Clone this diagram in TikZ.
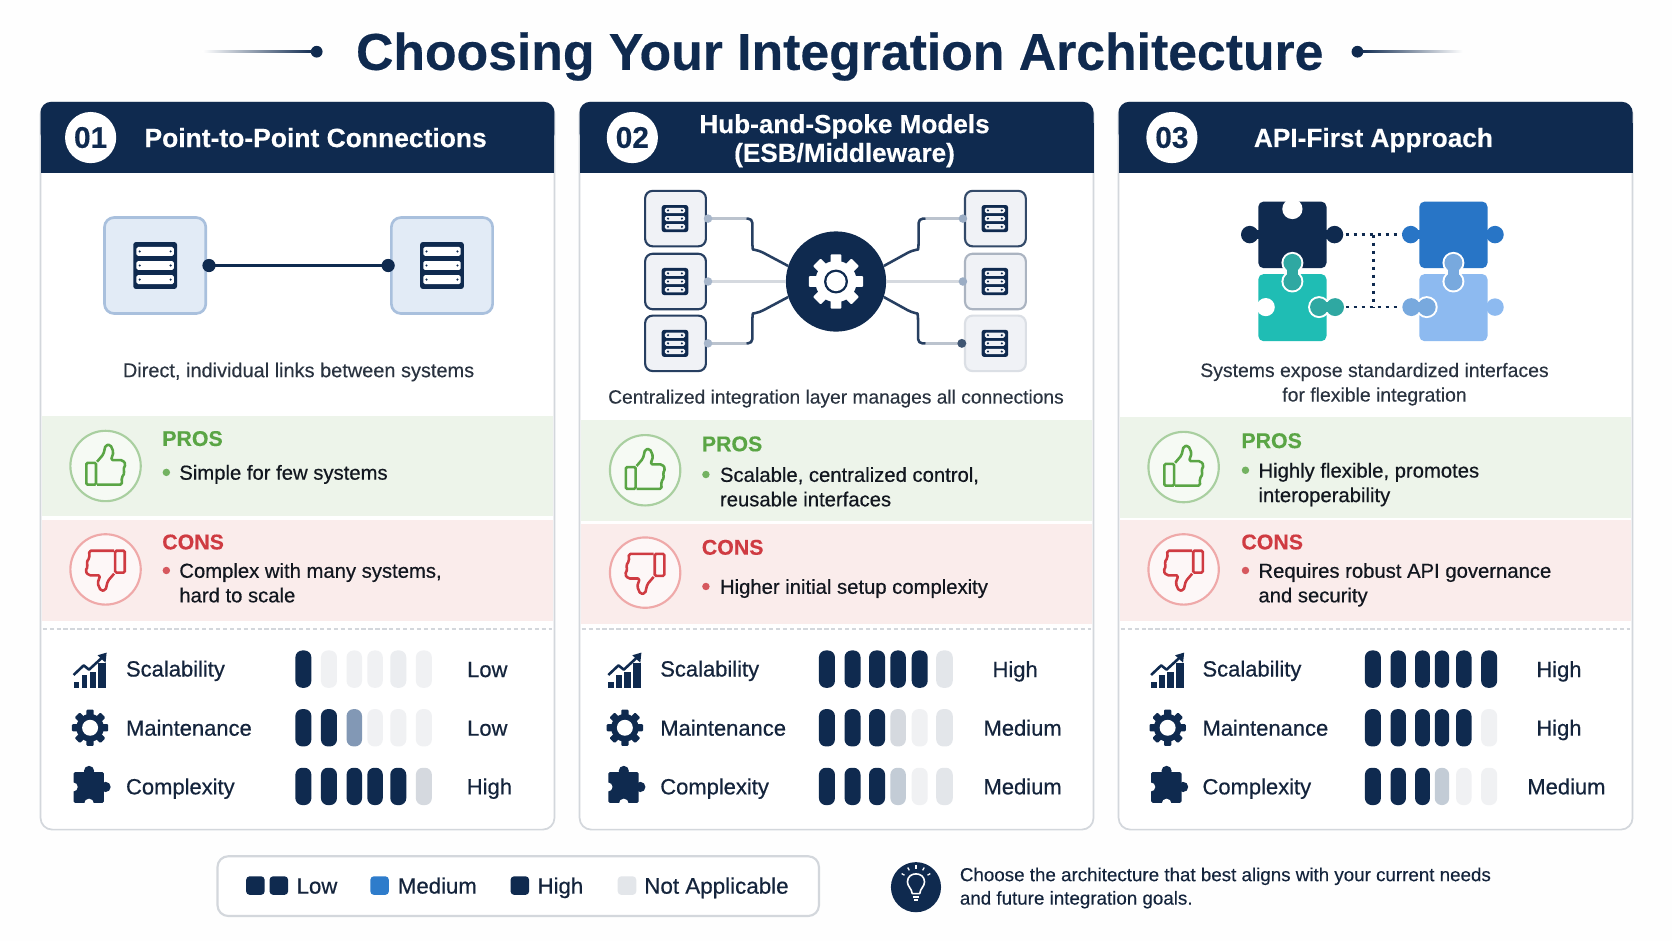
\documentclass[tikz,border=0pt]{standalone}
\usepackage{fontspec}
\setmainfont{Liberation Sans}
\newfontfamily\medf[FakeBold=0.55]{Liberation Sans}
\newfontfamily\lightf[FakeBold=0.25]{Liberation Sans}
\newfontfamily\boldf[FakeBold=0.35]{Liberation Sans Bold}
\usetikzlibrary{shapes.geometric,calc}
\definecolor{navy}{HTML}{0F2A4F}
\definecolor{ink}{HTML}{2A3340}
\definecolor{blk}{HTML}{12171F}
\definecolor{lab}{HTML}{14243C}
\definecolor{edge}{HTML}{D3D7DC}
\definecolor{gband}{HTML}{EDF4EA}
\definecolor{rband}{HTML}{FAECEB}
\definecolor{gtxt}{HTML}{5AA545}
\definecolor{rtxt}{HTML}{CF3B42}
\definecolor{gring}{HTML}{A9CFA0}
\definecolor{rring}{HTML}{EFA9A9}
\definecolor{Lt}{HTML}{F0F1F3}
\definecolor{Lm}{HTML}{E3E6EA}
\definecolor{Lg}{HTML}{D5D9DF}
\definecolor{Ls}{HTML}{C3CCD6}
\definecolor{Mid}{HTML}{8298B5}
\definecolor{boxf}{HTML}{E2EBF6}
\definecolor{boxe}{HTML}{A9C0DD}
\definecolor{hboxf}{HTML}{F0F2F6}
\definecolor{spoke}{HTML}{BBC3CE}
\definecolor{teal}{HTML}{1FBDB4}
\definecolor{tealb}{HTML}{2FA8A2}
\definecolor{pblue}{HTML}{2875C6}
\definecolor{plight}{HTML}{8DBAF0}
\definecolor{pmid}{HTML}{78A9DE}
\definecolor{legblue}{HTML}{2E7CCB}
\newcounter{nn}
% x y size anchor fontcmd colour text
\newcommand\tx[7]{\stepcounter{nn}\node[anchor=#4,inner sep=0pt,text=#6,font=\fontsize{#3}{#3}\selectfont#5] (t\thenn) at (#1,{#2+0.36*#3}) {#7};}
\newcommand\gearicon[5]{\begin{scope}[shift={(#1,#2)},scale=#3]
 \fill[#4] (0,0) circle (.76);
 \foreach \a in {0,45,...,315}{\fill[#4,rotate=\a,rounded corners=1pt] (-.2,-1) rectangle (.2,-.6);}
 \fill[#5] (0,0) circle (.44);
\end{scope}}
\newcommand\servericon[5]{\begin{scope}[shift={(#1,#2)}]
 \fill[navy,rounded corners=2.5pt] ({-#3/2},{-#4/2}) rectangle ({#3/2},{#4/2});
 \foreach \r in {-1,0,1}{
  \fill[#5,rounded corners=1.5pt] ({-#3/2+3},{\r*#4*.3-#4*.095}) rectangle ({#3/2-3},{\r*#4*.3+#4*.095});
  \fill[navy] ({-#3/2+6},{\r*#4*.3}) circle (1.1);
  \fill[navy] ({#3/2-6},{\r*#4*.3}) circle (1.1);}
\end{scope}}
\newcommand\thumbicon[4]{\begin{scope}[shift={(#1,#2)},xscale=#3,yscale=#3]
 \draw[#4,line width=2.4,rounded corners=1.2pt] (-18,-3) rectangle (-9,17.5);
 \draw[#4,line width=2.4,line join=round,rounded corners=1.6pt] (-8,-4) -- (-2,-11) -- (0,-19.5) -- (4.5,-20) -- (7.5,-13) -- (5,-5.5) -- (16,-5.5) -- (19,-1.5) -- (16.5,3) -- (18,6.5) -- (15,11) -- (15.5,17.5) -- (-8,17.5);
\end{scope}}
\newcommand\proscons[3]{%
 \stepcounter{nn}\node[circle,draw=gring,line width=2,fill=white!50!gband,minimum size=66,inner sep=0pt] (pc\thenn) at (#1,#2) {};
 \thumbicon{#1}{#2}{1}{gtxt}
 \stepcounter{nn}\node[circle,draw=rring,line width=2,fill=white!60!rband,minimum size=66,inner sep=0pt] (pc\thenn) at (#1,#3) {};
 \thumbicon{#1}{#3}{-1}{rtxt}}
\newcommand\bul[3]{\fill[#3] (#1,#2) circle (3.5);}
\newcommand\vbar[4]{\fill[#4,rounded corners=6.5pt] (#1,{#3-17.5}) rectangle (#2,{#3+17.5});}
\newcommand\scalicon[1]{\begin{scope}[shift={(#1,0)}]
 \fill[navy] (-15.5,639.5) rectangle (-10,645);
 \fill[navy] (-8,633) rectangle (-2.5,645);
 \fill[navy] (-.5,630) rectangle (5.5,645);
 \fill[navy] (7.5,622) rectangle (15,645);
 \draw[navy,line width=2.4,line join=round] (-15.5,633) -- (-6,624) -- (-1,628) -- (12,616);
 \fill[navy] (15.5,612) -- (14.5,621.5) -- (7,614.5) -- cycle;
\end{scope}}
\newcommand\puzzicon[1]{\begin{scope}[shift={(#1,737)}]
 \fill[navy,rounded corners=1.5pt] (-15.5,-13) rectangle (13,16);
 \fill[navy] (-1,-14) circle (4.8);
 \fill[navy] (14.5,1) circle (4.8);
 \fill[white] (-15.8,1) circle (4.2);
 \fill[white] (-1,16.5) circle (4.5);
\end{scope}}
\newcommand\hglass[5]{\fill[white] (#1,#2) circle (10.3); \fill[white] (#3,#4) circle (10.3);
 \draw[white,line width=14] (#1,#2) -- (#3,#4);
 \fill[#5] (#1,#2) circle (8.4); \fill[#5] (#3,#4) circle (8.4);
 \draw[#5,line width=10] (#1,#2) -- (#3,#4);}
\newcommand\piece[5]{\fill[#5,rounded corners=5pt] (#1,#2) rectangle (#3,#4);}
\newcommand\knob[4]{\fill[#4] (#1,#3) circle (8.2);\fill[#4] (#2,{#3-4}) rectangle (#1,{#3+4});}
\tikzset{
 cardbox/.style={draw=edge,line width=1.6,fill=white,rounded corners=11pt},
 hbox/.style={rectangle,rounded corners=7pt,fill=hboxf,minimum width=57,minimum height=52,line width=2,inner sep=0pt},
 dbox/.style={rectangle,rounded corners=9pt,fill=boxf,draw=boxe,line width=2.5,minimum width=95,minimum height=90,inner sep=0pt},
 numdisc/.style={circle,fill=white,minimum size=48,inner sep=0pt,text=navy,font=\fontsize{28}{28}\selectfont\boldf},
 spokeg/.style={spoke,line width=2.4},
 spokel/.style={Lg,line width=2.2},
 spoked/.style={navy!90!white,line width=2.4,line join=round},
 dotc/.style={navy,line width=2.6,dash pattern=on 3.5pt off 4pt},
 legsq/.style={rectangle,rounded corners=3.5pt,minimum width=17.5,minimum height=17.5,inner sep=0pt},
}
\begin{document}
\begin{tikzpicture}[x=1pt,y=-1pt]
\useasboundingbox (0,0) rectangle (1568,882.4);
\fill[white!60!Lt!8!white] (0,0) rectangle (1568,882.4);

% title
\node[circle,fill=navy,minimum size=11,inner sep=0pt] (tdl) at (297,48.5) {};
\node[circle,fill=navy,minimum size=11,inner sep=0pt] (tdr) at (1273,48.5) {};
\shade[left color=white,right color=navy] (190,47.6) rectangle (295,49.4);
\shade[left color=navy,right color=white] (1275,47.6) rectangle (1372,49.4);
\tx{787.5}{48}{48.5}{base}{\boldf}{navy}{Choosing Your Integration Architecture}

% cards
\foreach \cx in {38,543.5,1049}{
 \path[cardbox] (\cx,96) rectangle ({\cx+482},778);
 \fill[navy,rounded corners=10pt] (\cx,95.5) rectangle ({\cx+482},135);
 \fill[navy] (\cx,115) rectangle ({\cx+482},162);
 \draw[edge,line width=1.4,dash pattern=on 4pt off 2.5pt] ({\cx+2},590) -- ({\cx+480},590);
}
% bands
\fill[gband] (39,390) rectangle (519,484);
\fill[rband] (39,488) rectangle (519,582);
\fill[gband] (544.5,394) rectangle (1024,489);
\fill[rband] (544.5,491) rectangle (1024,585);
\fill[gband] (1050,391) rectangle (1529.5,486);
\fill[rband] (1050,488) rectangle (1529.5,582);

% headers
\node[numdisc] (n1) at (85,129) {01};
\node[numdisc] (n2) at (593,129) {02};
\node[numdisc] (n3) at (1099,129) {03};
\tx{296}{129}{24.8}{base}{\boldf}{white}{Point-to-Point Connections}
\tx{792}{116}{24.5}{base}{\boldf}{white}{Hub-and-Spoke Models}
\tx{792}{143}{24.5}{base}{\boldf}{white}{(ESB/Middleware)}
\tx{1288}{129}{24.6}{base}{\boldf}{white}{API-First Approach}

% card 1 diagram
\node[dbox] (a) at (145.5,249) {};
\node[dbox] (b) at (414.5,249) {};
\servericon{145.5}{249}{41}{44}{white}
\servericon{414.5}{249}{41}{44}{white}
\coordinate (ad) at (196,249);
\coordinate (bd) at (364,249);
\draw[navy,line width=3] (ad) -- (bd);
\fill[navy] (ad) circle (6.2);
\fill[navy] (bd) circle (6.2);
\tx{280}{347}{18.7}{base}{\lightf}{ink}{Direct, individual links between systems}

% card 2 diagram
\node[hbox,draw=navy!90!white] (l1) at (633.5,205) {};
\node[hbox,draw=navy!90!white] (l2) at (633.5,264) {};
\node[hbox,draw=navy!90!white] (l3) at (633.5,322) {};
\node[hbox,draw=navy!85!white] (r1) at (933.5,205) {};
\node[hbox,draw=navy!35!white] (r2) at (933.5,264) {};
\node[hbox,draw=navy!15!white] (r3) at (933.5,322) {};
\foreach \yy in {205,264,322}{
 \servericon{633}{\yy}{25}{25.5}{hboxf}
 \servericon{933}{\yy}{25}{25.5}{hboxf}
}
\node[circle,fill=navy,minimum size=94,inner sep=0pt] (hub) at (784,264) {};
\coordinate (l1d) at (664,205); \coordinate (l2d) at (664,264); \coordinate (l3d) at (664,322);
\coordinate (r1d) at (903,205); \coordinate (r2d) at (903,264); \coordinate (r3d) at (902,322);
\draw[spokel] (l2d) -- (hub);
\draw[spokel] (r2d) -- (hub);
\draw[spoked,rounded corners=4pt] (700,205) -- (705.5,205) -- (705.5,230) .. controls (706,234) .. (712,235) -- (hub.162);
\draw[spoked,rounded corners=4pt] (700,322) -- (705.5,322) -- (705.5,298) .. controls (706,294) .. (712,293) -- (hub.198);
\draw[spoked,rounded corners=4pt] (868,205) -- (861.5,205) -- (861.5,230) .. controls (861,234) .. (855,235) -- (hub.18);
\draw[spoked,rounded corners=4pt] (868,322) -- (861,322) -- (861,298) .. controls (860.5,294) .. (855,293) -- (hub.-18);
\draw[spokeg] (l1d) -- (700,205);
\draw[spokeg] (l3d) -- (700,322);
\draw[spokeg] (r1d) -- (868,205);
\draw[spokeg] (r3d) -- (868,322);
\fill[Mid!70!white] (l1d) circle (4); \fill[Mid!70!white] (l2d) circle (4); \fill[Mid!70!white] (l3d) circle (4);
\fill[Mid!80!white] (r1d) circle (4); \fill[Mid!80!white] (r2d) circle (4); \fill[navy!80!white] (r3d) circle (4.2);
\gearicon{784}{264}{25.5}{white}{navy}
\fill[white] (784,264) circle (9);
\tx{784}{372}{18}{base}{\lightf}{ink}{Centralized integration layer manages all connections}

% card 3 diagram
\coordinate (p1) at (1262,220); \coordinate (p2) at (1315,220);
\coordinate (p3) at (1262,288); \coordinate (p4) at (1315,288);
\coordinate (p5) at (1288,220); \coordinate (p6) at (1288,288);
\draw[dotc] (p1) -- (p2);
\draw[dotc] (p3) -- (p4);
\draw[dotc] (p5) -- (p6);
\piece{1180}{189}{1244}{251.5}{navy}
\fill[white] (1212,196) circle (9.5);
\fill[white] (1207,187) rectangle (1217,196);
\knob{1172}{1182}{220}{navy}
\knob{1251.5}{1242}{220}{navy}
\piece{1180}{257}{1244}{320}{teal}
\fill[white] (1187,288) circle (8.5);
\fill[white] (1178,283) rectangle (1187,293);
\piece{1331}{189}{1395}{251.5}{pblue}
\knob{1323}{1333}{220}{pblue}
\knob{1402}{1393}{220}{pblue}
\piece{1331}{257}{1395}{320}{plight}
\knob{1402}{1393}{288}{plight}
\hglass{1212}{246.5}{1212}{264}{tealb}
\hglass{1237}{288}{1252}{288}{tealb}
\hglass{1363}{246.5}{1363}{264}{pmid}
\hglass{1323.5}{288}{1338}{288}{pmid}
\tx{1289}{347}{18.2}{base}{\lightf}{ink}{Systems expose standardized interfaces}
\tx{1289}{370}{18.2}{base}{\lightf}{ink}{for flexible integration}

% pros & cons
\proscons{99}{437}{534}
\proscons{605}{441}{537}
\proscons{1110}{438}{534}
\tx{152}{411}{20}{base west}{\boldf}{gtxt}{PROS}
\bul{156}{443}{gtxt!85!white}
\tx{168}{443}{19}{base west}{\medf}{blk}{Simple for few systems}
\tx{152}{508}{20}{base west}{\boldf}{rtxt}{CONS}
\bul{156}{535}{rtxt!85!white}
\tx{168}{535}{19}{base west}{\medf}{blk}{Complex with many systems,}
\tx{168}{558}{19}{base west}{\medf}{blk}{hard to scale}

\tx{658}{416}{20}{base west}{\boldf}{gtxt}{PROS}
\bul{662}{445}{gtxt!85!white}
\tx{675}{445}{19}{base west}{\medf}{blk}{Scalable, centralized control,}
\tx{675}{468}{19}{base west}{\medf}{blk}{reusable interfaces}
\tx{658}{513}{20}{base west}{\boldf}{rtxt}{CONS}
\bul{662}{550}{rtxt!85!white}
\tx{675}{550}{19}{base west}{\medf}{blk}{Higher initial setup complexity}

\tx{1164}{413}{20}{base west}{\boldf}{gtxt}{PROS}
\bul{1168}{441}{gtxt!85!white}
\tx{1180}{441}{19}{base west}{\medf}{blk}{Highly flexible, promotes}
\tx{1180}{464}{19}{base west}{\medf}{blk}{interoperability}
\tx{1164}{508}{20}{base west}{\boldf}{rtxt}{CONS}
\bul{1168}{535}{rtxt!85!white}
\tx{1180}{535}{19}{base west}{\medf}{blk}{Requires robust API governance}
\tx{1180}{558}{19}{base west}{\medf}{blk}{and security}

% metric icons and labels
\foreach \ix/\lx in {84.5/118,586/619,1095/1127.5}{
 \scalicon{\ix}
 \gearicon{\ix}{682.5}{17}{navy}{white}
 \puzzicon{\ix}
 \tx{\lx}{627}{20.6}{base west}{\medf}{lab}{Scalability}
 \tx{\lx}{682.5}{20.6}{base west}{\medf}{lab}{Maintenance}
 \tx{\lx}{737.5}{20.6}{base west}{\medf}{lab}{Complexity}
}
\tx{457}{627.5}{20.6}{base}{\medf}{lab}{Low}
\tx{457}{682.5}{20.6}{base}{\medf}{lab}{Low}
\tx{459}{737.5}{20.6}{base}{\medf}{lab}{High}
\tx{952}{627.5}{20.6}{base}{\medf}{lab}{High}
\tx{959}{682.5}{20.6}{base}{\medf}{lab}{Medium}
\tx{959}{737.5}{20.6}{base}{\medf}{lab}{Medium}
\tx{1462}{627.5}{20.6}{base}{\medf}{lab}{High}
\tx{1462}{682.5}{20.6}{base}{\medf}{lab}{High}
\tx{1469}{737.5}{20.6}{base}{\medf}{lab}{Medium}

% bars card 1
\vbar{277}{292}{627.5}{navy}\vbar{301}{316}{627.5}{Lt}\vbar{325}{339.5}{627.5}{Lt}\vbar{344.5}{359}{627.5}{Lt}\vbar{366}{381}{627.5}{Lm!70!white}\vbar{390}{405}{627.5}{Lt}
\vbar{277}{292}{682.5}{navy}\vbar{301}{316}{682.5}{navy}\vbar{325}{339.5}{682.5}{Mid}\vbar{344.5}{359}{682.5}{Lt}\vbar{366}{381}{682.5}{Lt}\vbar{390}{405}{682.5}{Lt}
\vbar{277}{292}{737.5}{navy}\vbar{301}{316}{737.5}{navy}\vbar{325}{339.5}{737.5}{navy}\vbar{344.5}{359}{737.5}{navy}\vbar{366}{381}{737.5}{navy}\vbar{390}{405}{737.5}{Lg}
% bars card 2
\vbar{768}{783}{627.5}{navy}\vbar{792}{807}{627.5}{navy}\vbar{815}{830}{627.5}{navy}\vbar{835}{849.5}{627.5}{navy}\vbar{855}{870}{627.5}{navy}\vbar{878}{893.5}{627.5}{Lm}
\vbar{768}{783}{682.5}{navy}\vbar{792}{807}{682.5}{navy}\vbar{815}{830}{682.5}{navy}\vbar{835}{849.5}{682.5}{Lg}\vbar{855}{870}{682.5}{Lt}\vbar{878}{893.5}{682.5}{Lm}
\vbar{768}{783}{737.5}{navy}\vbar{792}{807}{737.5}{navy}\vbar{815}{830}{737.5}{navy}\vbar{835}{849.5}{737.5}{Ls}\vbar{855}{870}{737.5}{Lt}\vbar{878}{893.5}{737.5}{Lm}
% bars card 3
\vbar{1280}{1295}{627.5}{navy}\vbar{1304}{1318.5}{627.5}{navy}\vbar{1327}{1341}{627.5}{navy}\vbar{1345.5}{1359}{627.5}{navy}\vbar{1365.5}{1380}{627.5}{navy}\vbar{1389}{1404}{627.5}{navy}
\vbar{1280}{1295}{682.5}{navy}\vbar{1304}{1318.5}{682.5}{navy}\vbar{1327}{1341}{682.5}{navy}\vbar{1345.5}{1359}{682.5}{navy}\vbar{1365.5}{1380}{682.5}{navy}\vbar{1389}{1404}{682.5}{Lt}
\vbar{1280}{1295}{737.5}{navy}\vbar{1304}{1318.5}{737.5}{navy}\vbar{1327}{1341}{737.5}{navy}\vbar{1345.5}{1359}{737.5}{Ls}\vbar{1365.5}{1380}{737.5}{Lt}\vbar{1389}{1404}{737.5}{Lt}

% legend
\node[rectangle,draw=edge,line width=2,fill=white,rounded corners=10pt,minimum width=564,minimum height=56,inner sep=0pt] (leg) at (486,831) {};
\node[legsq,fill=navy] (k1) at (239.5,830.5) {};
\node[legsq,fill=navy] (k2) at (261.5,830.5) {};
\tx{278}{830.5}{20.8}{base west}{\medf}{lab}{Low}
\node[legsq,fill=legblue] (k3) at (356,830.5) {};
\tx{373}{830.5}{20.8}{base west}{\medf}{lab}{Medium}
\node[legsq,fill=navy] (k4) at (487.5,830.5) {};
\tx{504}{830.5}{20.8}{base west}{\medf}{lab}{High}
\node[legsq,fill=Lm] (k5) at (588,830.5) {};
\tx{604}{830.5}{21}{base west}{\medf}{lab}{Not Applicable}

% tip
\node[circle,fill=navy,minimum size=47,inner sep=0pt] (tip) at (859,832) {};
\draw[white,line width=1.5,line join=round] (855.5,838) .. controls (855,833) and (851,831.5) .. (851,827) .. controls (851,822) and (855,819.5) .. (859,819.5) .. controls (863,819.5) and (867,822) .. (867,827) .. controls (867,831.5) and (863,833) .. (862.5,838) -- cycle;
\draw[white,line width=1.5] (856,841) -- (862,841) (857,844) -- (861,844);
\foreach \a in {-150,-120,-90,-60,-30}{\draw[white,line width=1.2] ($(859,827)+(\a:12.5)$) -- ($(859,827)+(\a:15.5)$);}
\tx{900}{820}{17.6}{base west}{\lightf}{lab}{Choose the architecture that best aligns with your current needs}
\tx{900}{842}{17.6}{base west}{\lightf}{lab}{and future integration goals.}
\end{tikzpicture}
\end{document}
